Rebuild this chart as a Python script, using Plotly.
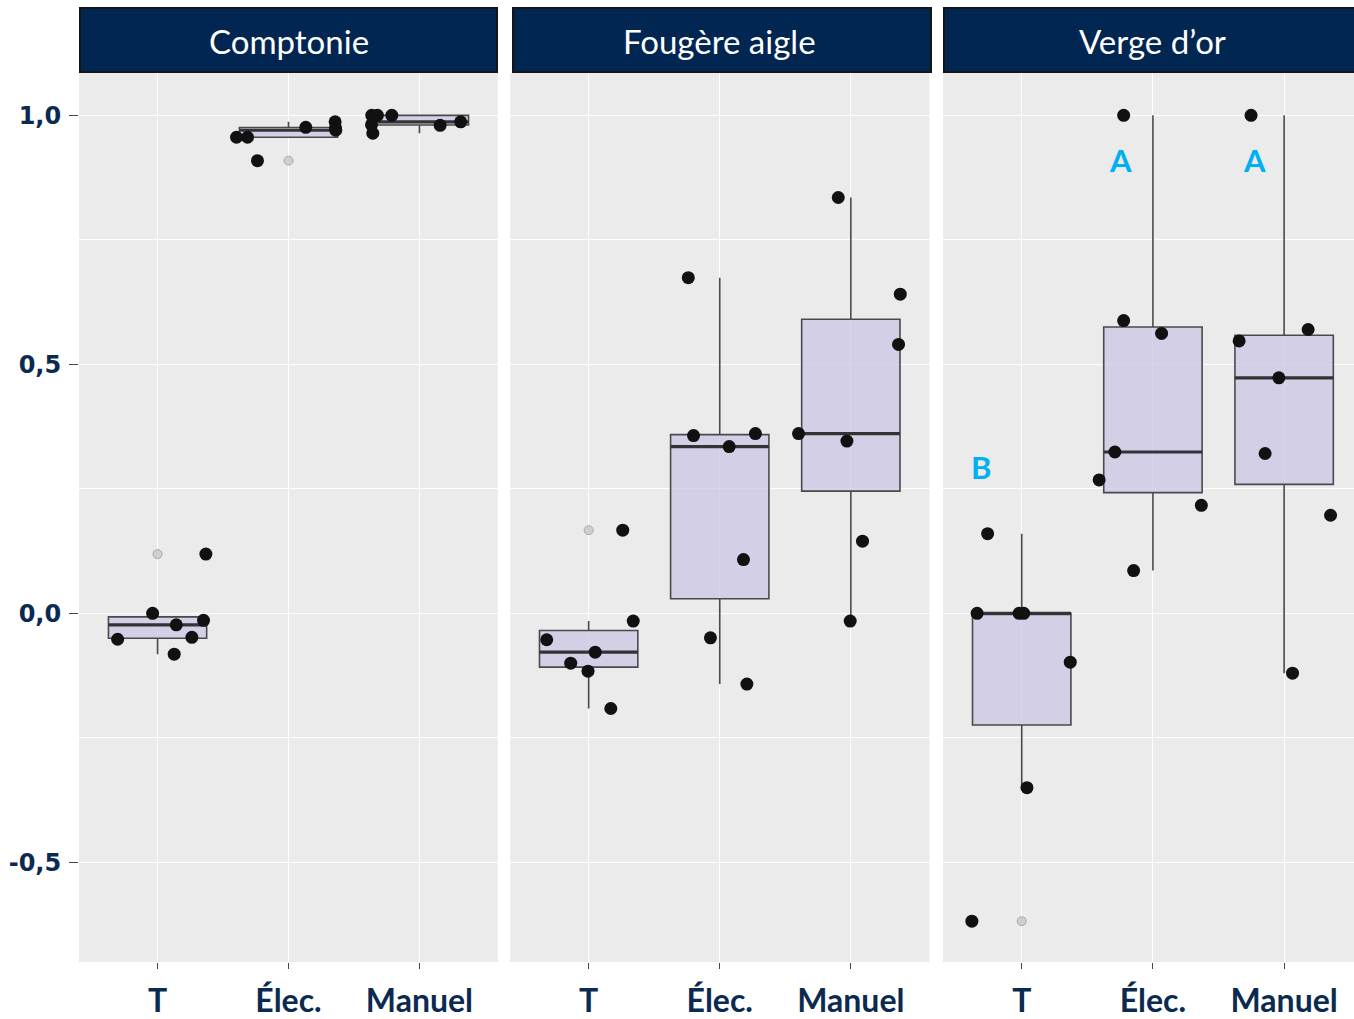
import numpy as np
import plotly.graph_objects as go

# ---------------- data ----------------
species = ["Comptonie", "Fougère aigle", "Verge d’or"]
treatments = ["T", "Élec.", "Manuel"]
ytick_vals = [-0.5, 0.0, 0.5, 1.0]
ytick_text = ["-0,5", "0,0", "0,5", "1,0"]

comptonie_T      = [0.119, 0.000, -0.023, -0.014, -0.052, -0.048, -0.082]
comptonie_elec   = [0.956, 0.956, 0.909, 0.976, 0.987, 0.975, 0.970]
comptonie_manuel = [1.000, 1.000, 1.000, 0.981, 0.964, 0.980, 0.987]

fougere_T      = [0.167, -0.0155, -0.053, -0.078, -0.100, -0.116, -0.191]
fougere_elec   = [0.674, 0.357, 0.335, 0.361, 0.108, -0.049, -0.142]
fougere_manuel = [0.835, 0.641, 0.540, 0.361, 0.346, 0.145, -0.0155]

verge_T      = [0.160, 0.000, 0.000, 0.000, -0.098, -0.350, -0.618]
verge_elec   = [1.000, 0.588, 0.562, 0.324, 0.268, 0.217, 0.086]
verge_manuel = [1.000, 0.570, 0.547, 0.473, 0.321, 0.197, -0.120]

# horizontal jitter (category units)
comptonie_T_jitter      = [0.369, -0.038, 0.143, 0.351, -0.305, 0.262, 0.127]
comptonie_elec_jitter   = [-0.397, -0.313, -0.237, 0.132, 0.356, 0.359, 0.361]
comptonie_manuel_jitter = [-0.364, -0.321, -0.211, -0.366, -0.356, 0.158, 0.315]

fougere_T_jitter      = [0.260, 0.340, -0.320, 0.050, -0.137, -0.005, 0.169]
fougere_elec_jitter   = [-0.240, -0.200, 0.072, 0.272, 0.181, -0.071, 0.207]
fougere_manuel_jitter = [-0.096, 0.377, 0.364, -0.399, -0.030, 0.089, -0.005]

verge_T_jitter      = [-0.260, -0.340, -0.020, 0.015, 0.370, 0.040, -0.380]
verge_elec_jitter   = [-0.223, -0.223, 0.066, -0.290, -0.410, 0.369, -0.147]
verge_manuel_jitter = [-0.252, 0.183, -0.343, -0.040, -0.145, 0.354, 0.064]

verge_letters = ["B", "A", "A"]

panels = [
    [(comptonie_T, comptonie_T_jitter), (comptonie_elec, comptonie_elec_jitter),
     (comptonie_manuel, comptonie_manuel_jitter)],
    [(fougere_T, fougere_T_jitter), (fougere_elec, fougere_elec_jitter),
     (fougere_manuel, fougere_manuel_jitter)],
    [(verge_T, verge_T_jitter), (verge_elec, verge_elec_jitter),
     (verge_manuel, verge_manuel_jitter)],
]

# ---------------- styles ----------------
NAVY = "#0B2A50"
STRIP = "#012652"
BOX_FILL = "rgba(201,195,228,0.72)"
BOX_LINE = "#4A4A4A"
PANEL_BG = "#EBEBEB"
FONT = "Lato"
W, H = 1354, 1019


def box_stats(v):
    v = np.sort(np.asarray(v, dtype=float))
    q1, med, q3 = np.percentile(v, [25, 50, 75])
    iqr = q3 - q1
    lo_f, hi_f = q1 - 1.5 * iqr, q3 + 1.5 * iqr
    lo = v[v >= lo_f].min()
    hi = v[v <= hi_f].max()
    out = v[(v < lo_f) | (v > hi_f)]
    return q1, med, q3, lo, hi, out


fig = go.Figure()
BW = 0.75
for p, groups in enumerate(panels):
    xa = "x" if p == 0 else f"x{p+1}"
    ya = "y" if p == 0 else f"y{p+1}"
    for i, (vals, jit) in enumerate(groups):
        c = i + 1
        q1, med, q3, lo, hi, out = box_stats(vals)
        fig.add_trace(go.Box(
            x=[c], q1=[q1], median=[med], q3=[q3],
            lowerfence=[lo], upperfence=[hi],
            width=BW, boxpoints=False, whiskerwidth=0,
            fillcolor=BOX_FILL, line=dict(color=BOX_LINE, width=1.6),
            xaxis=xa, yaxis=ya, showlegend=False, hoverinfo="skip"))
        fig.add_trace(go.Scatter(
            x=[c - BW / 2, c + BW / 2], y=[med, med], mode="lines",
            line=dict(color="#333333", width=3.2),
            xaxis=xa, yaxis=ya, showlegend=False, hoverinfo="skip"))
        if len(out):
            fig.add_trace(go.Scatter(
                x=[c] * len(out), y=out, mode="markers",
                marker=dict(size=9, color="#CFCFCF",
                            line=dict(color="#A8A8A8", width=1)),
                xaxis=xa, yaxis=ya, showlegend=False, hoverinfo="skip"))
        fig.add_trace(go.Scatter(
            x=c + np.asarray(jit), y=vals, mode="markers",
            marker=dict(size=13, color="#111111"),
            xaxis=xa, yaxis=ya, showlegend=False))

# ---------------- layout ----------------
px = lambda a: a / W
x_domains = [[px(79), px(498)], [px(510), px(929.5)], [px(943), 1.0]]
x_ranges = [[0.4, 3.6], [0.4, 3.6], [0.4, 0.4 + (1354 - 943) / 131.2]]
y_domain = [1 - 962 / H, 1 - 73 / H]
y_range = [-0.700, 1.085]

layout = dict(
    width=W, height=H, template="none",
    margin=dict(l=0, r=0, t=0, b=0),
    paper_bgcolor="white", plot_bgcolor=PANEL_BG,
    showlegend=False,
)
for p in range(3):
    xk = "xaxis" if p == 0 else f"xaxis{p+1}"
    yk = "yaxis" if p == 0 else f"yaxis{p+1}"
    ya = "y" if p == 0 else f"y{p+1}"
    xa = "x" if p == 0 else f"x{p+1}"
    layout[xk] = dict(
        domain=x_domains[p], range=x_ranges[p], anchor=ya,
        tickvals=[1, 2, 3], ticktext=treatments,
        showgrid=True, gridcolor="white", gridwidth=1.4,
        zeroline=False, showline=False,
        ticks="outside", ticklen=6, tickwidth=1, tickcolor="#444444",
        tickfont=dict(family=FONT, size=32, color=NAVY, weight="bold"),
        ticklabelstandoff=5, automargin=False, fixedrange=True,
    )
    layout[yk] = dict(
        domain=y_domain, range=y_range, anchor=xa,
        tickvals=ytick_vals, ticktext=ytick_text,
        showticklabels=(p == 0),
        showgrid=True, gridcolor="white", gridwidth=1.4,
        minor=dict(tickvals=[-0.25, 0.25, 0.75], showgrid=True,
                   gridcolor="white", gridwidth=0.8),
        zeroline=False, showline=False,
        ticks="outside" if p == 0 else "", ticklen=9, tickwidth=1,
        tickcolor="#444444",
        tickfont=dict(family="DejaVu Sans", size=24, color=NAVY, weight="bold"),
        ticklabelstandoff=3, automargin=False, fixedrange=True,
    )
    if p > 0:
        layout[yk]["matches"] = "y"

shapes, annotations = [], []
strip_x = [[px(80), px(497)], [px(513), px(931)], [px(944), 1.003]]
for p in range(3):
    shapes.append(dict(
        type="rect", xref="paper", yref="paper",
        x0=strip_x[p][0], x1=strip_x[p][1],
        y0=1 - 72 / H, y1=1 - 8 / H,
        fillcolor=STRIP, line=dict(color="#151515", width=2), layer="above"))
    xa = "x" if p == 0 else f"x{p+1}"
    annotations.append(dict(
        xref=xa, yref="paper", x=2, y=1 - 41 / H,
        text=species[p], showarrow=False, xanchor="center", yanchor="middle",
        font=dict(family=FONT, size=33, color="white")))

letter_pos = [(0.69, 0.294), (1.754, 0.910), (2.777, 0.910)]
for (lx, ly), txt in zip(letter_pos, verge_letters):
    annotations.append(dict(
        xref="x3", yref="y3", x=lx, y=ly, text=txt, showarrow=False,
        xanchor="center", yanchor="middle",
        font=dict(family=FONT, size=31, color="#00B0F0", weight="bold")))

layout["shapes"] = shapes
layout["annotations"] = annotations
fig.update_layout(**layout)
fig.write_html(
    "out.html",
    config={"displayModeBar": False},
    post_script="document.body.style.margin='0';document.body.style.overflow='hidden';",
)
